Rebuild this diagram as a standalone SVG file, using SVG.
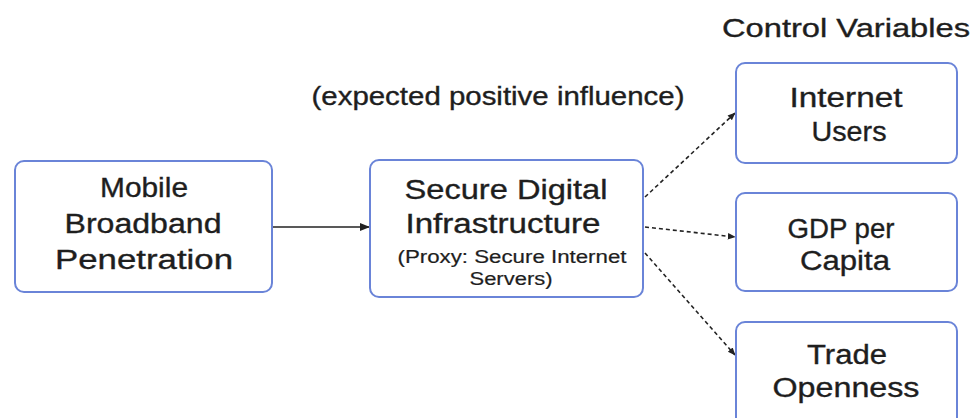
<svg xmlns="http://www.w3.org/2000/svg" width="976" height="418" viewBox="0 0 976 418">
<defs>
<style>
.box{fill:#fff;stroke:#6a84d8;stroke-width:2}
.t{font-family:"Liberation Sans",Arial,sans-serif;fill:#1e1e1e;stroke:#1e1e1e;stroke-width:0.35;text-anchor:middle}
.big{font-size:27px}
.sm{font-size:18px;stroke-width:0.2}
.c{stroke:#222;stroke-width:1.6;fill:none}
.d{stroke-dasharray:4 3}
</style>
<marker id="ah" viewBox="0 0 10 10" refX="9" refY="5" markerWidth="10" markerHeight="10" markerUnits="userSpaceOnUse" orient="auto">
<path d="M0,1 L10,5 L0,9 Z" fill="#222"/>
</marker>
<marker id="ahs" viewBox="0 0 10 10" refX="9" refY="5" markerWidth="8" markerHeight="8" markerUnits="userSpaceOnUse" orient="auto">
<path d="M0,1 L10,5 L0,9 Z" fill="#222"/>
</marker>
</defs>
<rect width="976" height="418" fill="#fff"/>
<text class="t" x="846" y="37" font-size="26" textLength="248" lengthAdjust="spacingAndGlyphs">Control Variables</text>
<text class="t" x="498" y="105" font-size="25" textLength="373" lengthAdjust="spacingAndGlyphs">(expected positive influence)</text>
<g id="connectors">
<line class="c" x1="272" y1="227" x2="369" y2="227" marker-end="url(#ah)"/>
<line class="c d" x1="645" y1="197" x2="735" y2="113" marker-end="url(#ahs)"/>
<line class="c d" x1="645" y1="227" x2="735" y2="237" marker-end="url(#ahs)"/>
<line class="c d" x1="645" y1="253" x2="735" y2="355" marker-end="url(#ahs)"/>
</g>
<g id="mobile">
<rect class="box" x="15" y="161" width="257" height="131" rx="9"/>
<text class="t big" x="144" y="197" textLength="88" lengthAdjust="spacingAndGlyphs">Mobile</text>
<text class="t big" x="143" y="233" textLength="157" lengthAdjust="spacingAndGlyphs">Broadband</text>
<text class="t big" x="144" y="269" textLength="178" lengthAdjust="spacingAndGlyphs">Penetration</text>
</g>
<g id="secure">
<rect class="box" x="370" y="160" width="273" height="137" rx="9"/>
<text class="t big" x="506" y="199" textLength="203" lengthAdjust="spacingAndGlyphs">Secure Digital</text>
<text class="t big" x="503" y="233" textLength="195" lengthAdjust="spacingAndGlyphs">Infrastructure</text>
<text class="t sm" x="512" y="263" textLength="229" lengthAdjust="spacingAndGlyphs">(Proxy: Secure Internet</text>
<text class="t sm" x="511" y="285" textLength="83" lengthAdjust="spacingAndGlyphs">Servers)</text>
</g>
<g id="internet">
<rect class="box" x="736" y="63" width="221" height="100" rx="9"/>
<text class="t big" x="846" y="107" textLength="113" lengthAdjust="spacingAndGlyphs">Internet</text>
<text class="t big" x="849" y="141" textLength="75" lengthAdjust="spacingAndGlyphs">Users</text>
</g>
<g id="gdp">
<rect class="box" x="736" y="193" width="221" height="98" rx="9"/>
<text class="t big" x="841" y="238" textLength="107" lengthAdjust="spacingAndGlyphs">GDP per</text>
<text class="t big" x="845" y="270" textLength="90" lengthAdjust="spacingAndGlyphs">Capita</text>
</g>
<g id="trade">
<rect class="box" x="736" y="322" width="221" height="110" rx="9"/>
<text class="t big" x="847" y="364" textLength="80" lengthAdjust="spacingAndGlyphs">Trade</text>
<text class="t big" x="846" y="397" textLength="147" lengthAdjust="spacingAndGlyphs">Openness</text>
</g>
</svg>
